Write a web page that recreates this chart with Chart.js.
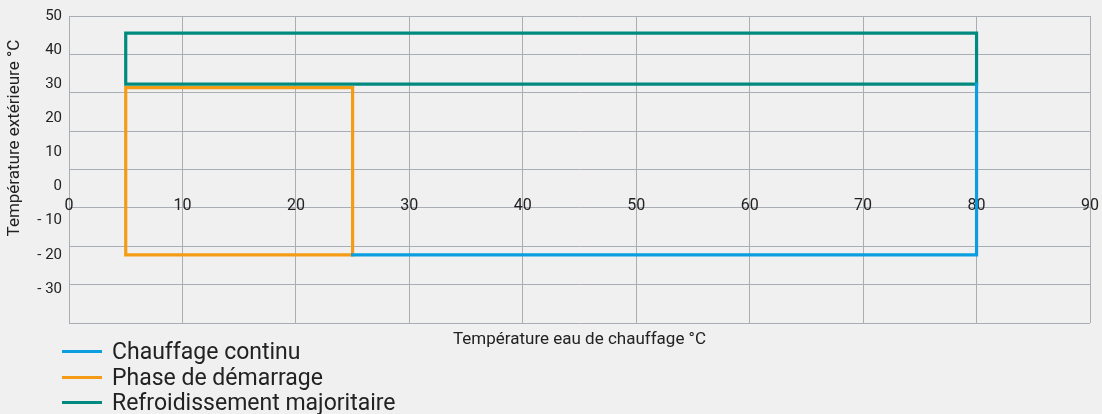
<!DOCTYPE html>
<html lang="fr">
<head>
<meta charset="utf-8">
<title>Plages de fonctionnement</title>
<script src="https://cdn.jsdelivr.net/npm/chart.js@4.4.1/dist/chart.umd.min.js"></script>
<style>
  html, body { margin: 0; padding: 0; background: #f0f0f0; }
  #wrap { position: relative; width: 1102px; height: 414px; }
  #legende { position: absolute; left: 62px; top: 339px; font-family: Roboto, sans-serif; font-size: 23px; color: #222; }
  #legende .item { display: flex; align-items: center; height: 25.5px; white-space: nowrap; }
  #legende .trait { display: inline-block; width: 40px; height: 3px; margin-right: 10px; }
</style>
</head>
<body>
<div id="wrap">
  <canvas id="miGrafica" width="1102" height="414"></canvas>
  <div id="legende"></div>
</div>
<script>
// Ejes
const ejeXTicks = [0, 10, 20, 30, 40, 50, 60, 70, 80, 90];
const ejeYTicks = [50, 40, 30, 20, 10, 0, -10, -20, -30];

// Series (x = température eau, y = température extérieure)
const chauffageX = [25, 80, 80];
const chauffageY = [-20, -20, 30];
const demarrageX = [5, 25, 25, 5, 5];
const demarrageY = [29, 29, -20, -20, 29];
const refroidX = [5, 80, 80, 5, 5];
const refroidY = [45, 45, 30, 30, 45];

const etiquetas = ['Chauffage continu', 'Phase de démarrage', 'Refroidissement majoritaire'];
const colores = ['#0a9ee0', '#f59c17', '#008a7f'];

const grisGrille = '#a9adb4';
const texto = '#222';

function puntos(xs, ys) {
  return xs.map((x, i) => ({ x: x, y: ys[i] }));
}

function serie(i, xs, ys) {
  return {
    label: etiquetas[i],
    data: puntos(xs, ys),
    xAxisID: 'x',
    yAxisID: 'y',
    borderColor: colores[i],
    backgroundColor: colores[i],
    borderWidth: 3.2,
    borderJoinStyle: 'miter',
    borderCapStyle: 'square',
    pointRadius: 0,
    fill: false,
    tension: 0
  };
}

// Leyenda HTML (vertical, abajo a la izquierda)
const leyendaHtml = {
  id: 'leyendaHtml',
  afterUpdate(chart) {
    const caja = document.getElementById('legende');
    caja.innerHTML = '';
    chart.data.datasets.forEach(ds => {
      const fila = document.createElement('div');
      fila.className = 'item';
      const trait = document.createElement('span');
      trait.className = 'trait';
      trait.style.background = ds.borderColor;
      fila.appendChild(trait);
      fila.appendChild(document.createTextNode(ds.label));
      caja.appendChild(fila);
    });
  }
};

// eje vacio solo para apilar el titulo del eje y un poco mas arriba
const ejeVacio = {
  type: 'linear',
  position: 'left',
  display: true,
  ticks: { display: false },
  grid: { display: false, drawTicks: false },
  border: { display: false }
};

const ctx = document.getElementById('miGrafica').getContext('2d');
new Chart(ctx, {
  type: 'line',
  data: {
    datasets: [
      serie(0, chauffageX, chauffageY),
      serie(1, demarrageX, demarrageY),
      serie(2, refroidX, refroidY)
    ]
  },
  options: {
    responsive: false,
    animation: false,
    parsing: false,
    layout: { padding: { top: 16, right: 12, left: 0, bottom: 0 } },
    plugins: {
      legend: { display: false },
      tooltip: { enabled: false }
    },
    scales: {
      x: {
        type: 'linear',
        position: 'bottom',
        min: 0,
        max: 90,
        afterBuildTicks: s => { s.ticks = ejeXTicks.map(v => ({ value: v })); },
        afterFit: s => { s.height = 91; },
        ticks: { display: false },
        grid: { color: grisGrille, lineWidth: 1, drawTicks: false },
        border: { display: false },
        title: {
          display: true,
          text: 'Température eau de chauffage °C',
          color: texto,
          font: { family: 'Roboto', size: 17 },
          padding: { top: 0, bottom: 64 }
        }
      },
      xEtiquetas: {
        type: 'linear',
        axis: 'x',
        position: { yGrille: -6.25 },
        min: 0,
        max: 90,
        afterBuildTicks: s => { s.ticks = ejeXTicks.map(v => ({ value: v })); },
        ticks: { color: texto, font: { family: 'Roboto', size: 16 }, padding: -11, maxRotation: 0, autoSkip: false },
        grid: { display: false, drawTicks: false },
        border: { display: false }
      },
      yTitre: Object.assign({}, ejeVacio, {
        weight: 3,
        stack: 'titre',
        stackWeight: 0.795,
        afterFit: s => { s.width = 30; },
        title: {
          display: true,
          text: 'Température extérieure °C',
          color: texto,
          font: { family: 'Roboto', size: 17 },
          padding: { top: 5, bottom: 0 }
        }
      }),
      yVide: Object.assign({}, ejeVacio, {
        weight: 2,
        stack: 'titre',
        stackWeight: 0.205,
        afterFit: s => { s.width = 30; }
      }),
      y: {
        type: 'linear',
        position: 'left',
        weight: 0,
        min: -40,
        max: 50,
        afterBuildTicks: s => { s.ticks = ejeYTicks.map(v => ({ value: v })); },
        afterFit: s => { s.width = 39; },
        ticks: {
          color: texto,
          font: { family: 'Roboto', size: 15 },
          padding: 7,
          autoSkip: false,
          callback: v => (v < 0 ? '- ' + Math.abs(v) : String(v))
        },
        grid: { display: false, drawTicks: false },
        border: { display: false }
      },
      yGrille: {
        type: 'linear',
        axis: 'y',
        position: 'right',
        min: -40,
        max: 50,
        afterFit: s => { s.width = 0; },
        ticks: { display: false, stepSize: 11.25 },
        grid: { color: grisGrille, lineWidth: 1, drawTicks: false },
        border: { display: false }
      }
    }
  },
  plugins: [leyendaHtml]
});
</script>
</body>
</html>
